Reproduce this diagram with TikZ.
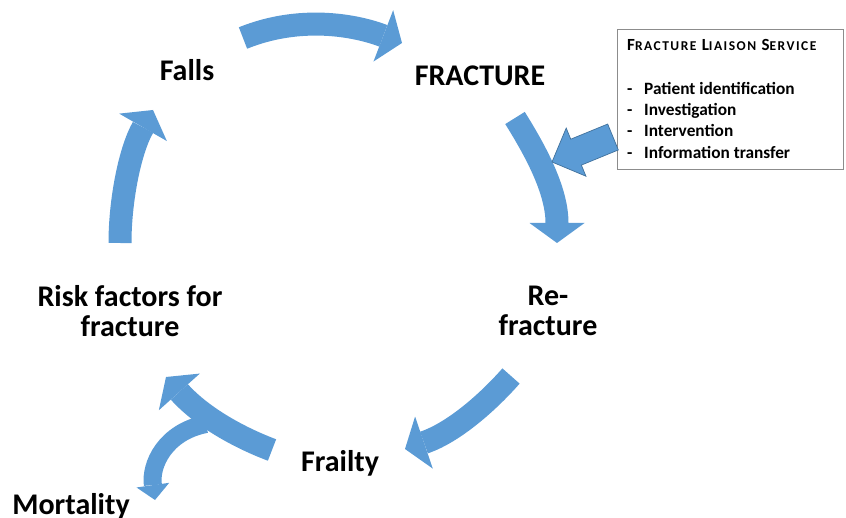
\documentclass[tikz,border=0pt]{standalone}
\usepackage{fontspec}
\setmainfont{Carlito}
\usetikzlibrary{positioning,calc,arrows.meta}
\definecolor{cycleblue}{HTML}{5B9BD5}
\definecolor{cycleedge}{HTML}{41719C}
\definecolor{boxgray}{HTML}{8C8C8C}
\newcommand{\flssc}[2]{{\fontsize{17}{18}\selectfont #1}{\fontsize{13.5}{18}\selectfont #2}}

\begin{document}
\begin{tikzpicture}[x=1pt, y=-1pt]
	\tikzset{
		stage/.style={font=\fontsize{30}{30}\selectfont\bfseries, align=center, inner sep=0pt},
		flow/.style={draw=cycleblue, line width=23pt, -{Triangle[length=20pt, width=55pt, line width=0pt]}},
		branch/.style={draw=cycleblue, line width=18pt, -{Triangle[length=15pt, width=33pt, line width=0pt]}},
		item/.style={font=\fontsize{17.3}{20}\selectfont\bfseries, anchor=base west, inner sep=0pt}
	}
	\useasboundingbox (0,0) rectangle (846,518);
	
	% Stages of the cycle
	\node[stage] (falls) at (187,70) {Falls};
	\node[stage] (fracture) at (480,76) {FRACTURE};
	\node[stage] (refracture) at (548,311) {Re-\\fracture};
	\node[stage] (frailty) at (340,463) {Frailty};
	\node[stage] (risk) at (130,311) {Risk factors for\\fracture};
	\node[stage, anchor=base] (mortality) at (71,514) {Mortality};
	
	% Arrow end points
	\coordinate (a1s) at (243,38);
	\coordinate (a1e) at (402,43);
	\coordinate (a2s) at (515,118);
	\coordinate (a2e) at (557,243);
	\coordinate (a3s) at (511,376);
	\coordinate (a3e) at (405,449);
	\coordinate (a4s) at (272,450);
	\coordinate (a4e) at (166,377);
	\coordinate (a5s) at (120,243);
	\coordinate (a5e) at (153,110);
	\coordinate (m1s) at (206,424);
	\coordinate (m1e) at (155,500);
	
	% Cycle arrows
	\draw[flow] (a1s) .. controls (300,15) and (355,25) .. (a1e);
	\draw[flow] (a2s) .. controls (535,150) and (557,190) .. (a2e);
	\draw[flow] (a3s) .. controls (490,400) and (455,432) .. (a3e);
	\draw[branch] (m1s) .. controls (165,432) and (150,465) .. (m1e);
	\draw[flow] (a4s) .. controls (235,436) and (200,415) .. (a4e);
	\draw[flow] (a5s) .. controls (120,200) and (130,150) .. (a5e);
	
	% Fracture Liaison Service
	\node[draw=boxgray, line width=0.8pt, anchor=north west, minimum width=226pt, minimum height=140pt, inner sep=0pt] (fls) at (617,29) {};
	\node[anchor=base west, inner sep=0pt, font=\bfseries\addfontfeature{LetterSpace=11}] (flshead) at (627,51) {\flssc{F}{RACTURE}\hspace{2pt} \flssc{L}{IAISON}\hspace{2pt} \flssc{S}{ERVICE}};
	\foreach \txt [count=\i] in {Patient identification, Investigation, Intervention, Information transfer} {
		\node[item] (dash\i) at (627,73+21.3*\i) {-};
		\node[item] (task\i) at (644,73+21.3*\i) {\txt};
	}
	
	% arrow from the service into the cycle
	\coordinate (flsT) at (613,137);
	\coordinate (flsH) at (552,162);
	\coordinate (flsB) at ($(flsH)!26pt!(flsT)$);
	\draw[cycleedge, fill=cycleblue, line width=0.7pt]
		($(flsB)!14pt!90:(flsT)$) -- ($(flsB)!26pt!90:(flsT)$) -- (flsH)
		-- ($(flsB)!26pt!-90:(flsT)$) -- ($(flsB)!14pt!-90:(flsT)$)
		-- ($(flsT)!14pt!90:(flsB)$) -- ($(flsT)!14pt!-90:(flsB)$) -- cycle;
\end{tikzpicture}
\end{document}
